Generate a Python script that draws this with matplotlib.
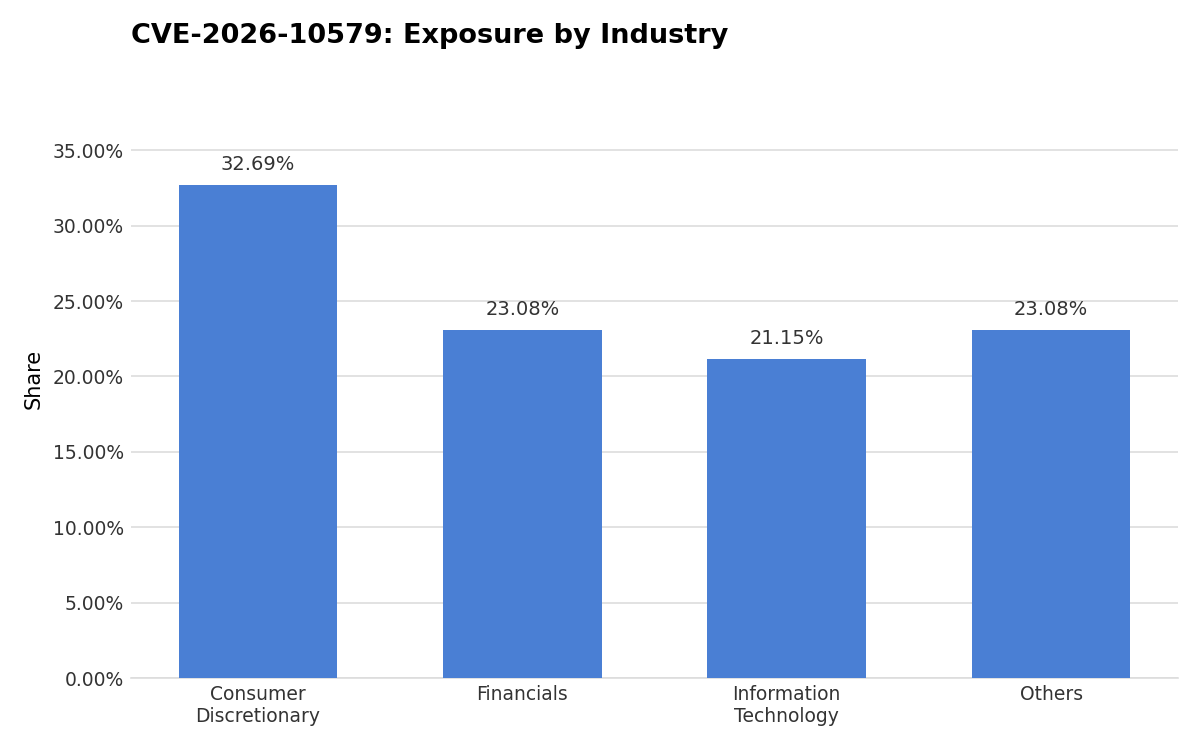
import matplotlib.pyplot as plt
from matplotlib.ticker import PercentFormatter

industries = ["Consumer\nDiscretionary", "Financials", "Information\nTechnology", "Others"]
shares = [32.69, 23.08, 21.15, 23.08]

fig = plt.figure(figsize=(12, 7.5), dpi=100)
ax = fig.add_axes([131 / 1200, 1 - 678 / 750, (1178 - 131) / 1200, (678 - 80) / 750])

bars = ax.bar(range(len(shares)), shares, width=0.6, color="#4a7fd4", zorder=3)
for b, v in zip(bars, shares):
    ax.annotate(f"{v:.2f}%", (b.get_x() + b.get_width() / 2, v), xytext=(0, 8),
                textcoords="offset points", ha="center", va="bottom",
                fontsize=14, color="#333333")

ax.set_xlim(-0.48, 3.48)
ax.set_ylim(0, 39.66)
ax.set_yticks([0, 5, 10, 15, 20, 25, 30, 35])
ax.yaxis.set_major_formatter(PercentFormatter(decimals=2))
ax.set_xticks(range(len(industries)))
ax.set_xticklabels(industries)
ax.tick_params(axis="both", length=0, labelsize=13.5, labelcolor="#333333")
ax.tick_params(axis="x", pad=5)
ax.tick_params(axis="y", pad=5)
ax.grid(axis="y", color="#dddddd", linewidth=1.2, zorder=0)
for s in ["top", "right", "left"]:
    ax.spines[s].set_visible(False)
ax.spines["bottom"].set_color("#dddddd")
ax.spines["bottom"].set_linewidth(1.2)
ax.set_ylabel("Share", fontsize=15, labelpad=7)

fig.text(131 / 1200, 1 - 36 / 750, "CVE-2026-10579: Exposure by Industry",
         fontsize=19.5, fontweight="bold", va="center", ha="left")

fig.savefig("out.png")
